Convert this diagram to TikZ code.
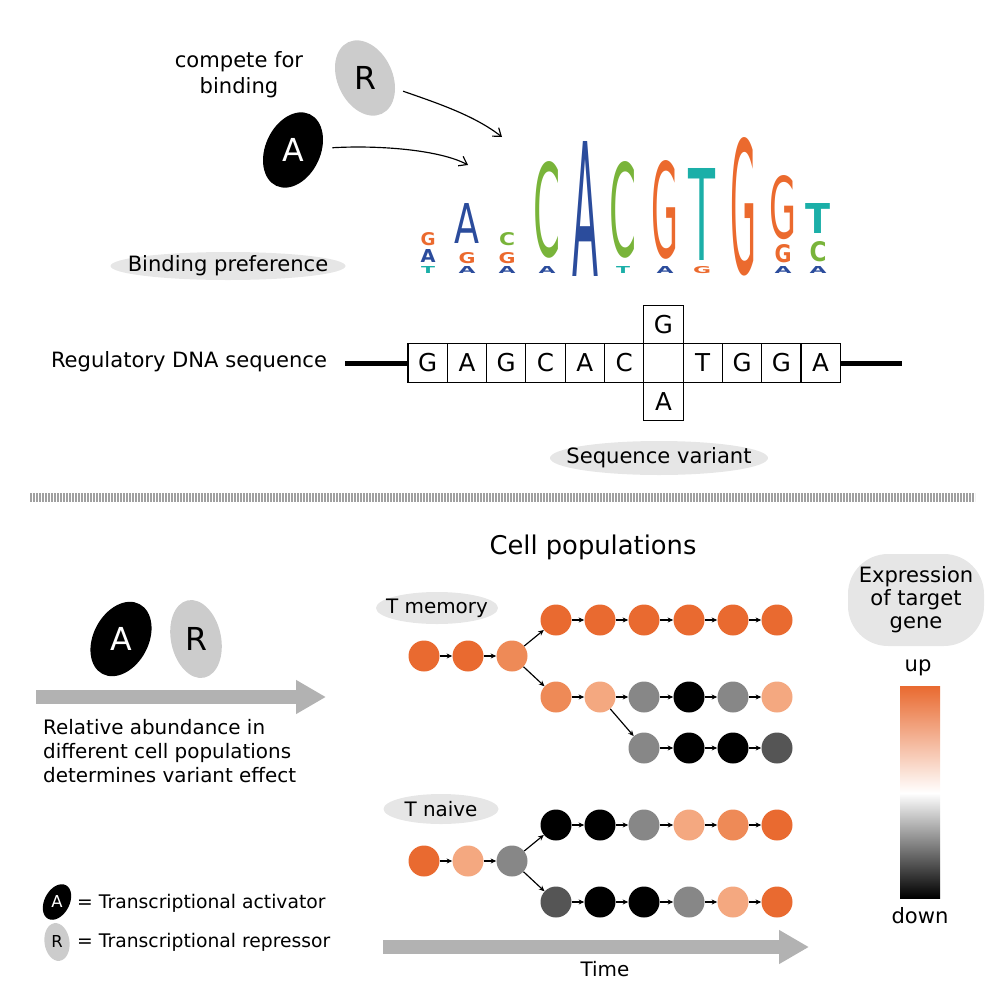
\documentclass[tikz,border=0pt]{standalone}
\usepackage{fontspec}
\setmainfont{DejaVu Sans}
\usepackage{graphicx}
\usetikzlibrary{arrows.meta,shapes.geometric}

\definecolor{logoG}{HTML}{EB6A2E}
\definecolor{logoA}{HTML}{2B4C9C}
\definecolor{logoC}{HTML}{79B43A}
\definecolor{logoT}{HTML}{1BAFA8}
\definecolor{cellhi}{HTML}{E96A30}
\definecolor{cellmid}{HTML}{EE8A57}
\definecolor{celllo}{HTML}{F4A880}
\definecolor{cellgray}{HTML}{878787}
\definecolor{celldark}{HTML}{555555}
\definecolor{bubblegray}{HTML}{E6E6E6}
\definecolor{tfgray}{HTML}{CCCCCC}
\definecolor{arrowgray}{HTML}{B2B2B2}
\definecolor{sepgray}{HTML}{A0A0A0}

\newlength{\pxu}
\setlength{\pxu}{0.3mm}
%% name, x, y of foot, width, height, letter, colour
\newcommand{\logoletter}[7]{\draw (#2,#3) node[anchor=south,inner sep=0pt] (#1) {\resizebox{#4\pxu}{#5\pxu}{\color{#7}#6}};}

\begin{document}
\begin{tikzpicture}[x=0.3mm, y=-0.3mm,
	lbl/.style={font=\fontsize{18}{22}\selectfont, inner sep=0pt},
	txt/.style={font=\fontsize{17}{20.4}\selectfont, inner sep=0pt},
	legend/.style={font=\fontsize{16}{19}\selectfont, inner sep=0pt},
	title/.style={font=\fontsize{22}{26}\selectfont, inner sep=0pt},
	bubble/.style={ellipse, fill=bubblegray, inner sep=0pt},
	tfshape/.style={ellipse, inner sep=0pt, minimum width=16.5mm, minimum height=23.7mm},
	tfsmall/.style={ellipse, inner sep=0pt, minimum width=7.5mm, minimum height=11.4mm},
	tfletter/.style={font=\fontsize{27}{27}\selectfont, inner sep=0pt},
	legletter/.style={font=\fontsize{14}{14}\selectfont, inner sep=0pt},
	dnabox/.style={draw, fill=white, line width=0.35mm, minimum width=11.8mm, minimum height=11.6mm, inner sep=0pt, font=\fontsize{21}{21}\selectfont},
	cell/.style={circle, minimum size=9.3mm, inner sep=0pt},
	cellarrow/.style={-{Stealth[length=1.7mm,width=1.5mm]}, line width=0.35mm},
	bigarrow/.style={draw=arrowgray, line width=4.2mm, -{Triangle[length=9mm,width=9.6mm]}},
	bindarrow/.style={-{Straight Barb[length=2.2mm,width=3.2mm]}, line width=0.35mm}
	]
	
		\useasboundingbox (0,0) rectangle (1000,1000);
		
		%%Factors competing
		\draw (239,75) node[lbl, align=center] (compete) {compete for\\binding};
		\node[tfshape, fill=tfgray, rotate=25] (tfR) at (365,78) {};
		\node[tfletter] (tfRl) at (tfR) {R};
		\node[tfshape, fill=black, rotate=-25] (tfA) at (293,150) {};
		\node[tfletter, text=white] (tfAl) at (tfA) {A};
		\coordinate (bindR) at (502,137);
		\coordinate (bindA) at (468,165);
		\draw[bindarrow, shorten <=2.5mm] (tfR) .. controls (440,104) and (475,116) .. (bindR);
		\draw[bindarrow, shorten <=3mm] (tfA) .. controls (380,145) and (440,150) .. (bindA);
		
		%%Logo
		\logoletter{lg1a}{428}{274}{14}{7}{\bfseries T}{logoT}
		\logoletter{lg1b}{428}{263}{15}{13}{\bfseries A}{logoA}
		\logoletter{lg1c}{428}{246}{15}{13}{\bfseries G}{logoG}
		\logoletter{lg2a}{467}{274}{17}{7}{\bfseries A}{logoA}
		\logoletter{lg2b}{467}{264}{17}{11}{\bfseries G}{logoG}
		\logoletter{lg2c}{467}{244}{25}{40}{A}{logoA}
		\logoletter{lg3a}{507}{274}{17}{7}{\bfseries A}{logoA}
		\logoletter{lg3b}{507}{264}{17}{11}{\bfseries G}{logoG}
		\logoletter{lg3c}{507}{246}{16}{13}{\bfseries C}{logoC}
		\logoletter{lg4a}{547}{274}{17}{7}{\bfseries A}{logoA}
		\logoletter{lg4b}{547}{259}{27}{95}{C}{logoC}
		\logoletter{lg5a}{585}{277}{26}{135}{A}{logoA}
		\logoletter{lg6a}{623}{274}{14}{7}{\bfseries T}{logoT}
		\logoletter{lg6b}{623}{259}{27}{95}{C}{logoC}
		\logoletter{lg7a}{665}{274}{17}{7}{\bfseries A}{logoA}
		\logoletter{lg7b}{665}{260}{27}{97}{G}{logoG}
		\logoletter{lg8a}{702}{274}{18}{7}{\bfseries G}{logoG}
		\logoletter{lg8b}{702}{261}{27}{92}{T}{logoT}
		\logoletter{lg9a}{743}{276}{26}{136}{G}{logoG}
		\logoletter{lg10a}{783}{274}{17}{7}{\bfseries A}{logoA}
		\logoletter{lg10b}{783}{263}{17}{18}{\bfseries G}{logoG}
		\logoletter{lg10c}{783}{240}{27}{63}{G}{logoG}
		\logoletter{lg11a}{818}{274}{17}{7}{\bfseries A}{logoA}
		\logoletter{lg11b}{818}{262}{17}{20}{\bfseries C}{logoC}
		\logoletter{lg11c}{818}{234}{25}{30}{\bfseries T}{logoT}
		
		\node[bubble, minimum width=70.5mm, minimum height=8.4mm] (bindbub) at (228,266) {};
		\node[lbl] (bindlbl) at (bindbub) {Binding preference};
		
		%%Sequence
		\draw (189,362) node[lbl] (reglbl) {Regulatory DNA sequence};
		\coordinate (dna0) at (345,363);
		\coordinate (dna1) at (902,363);
		\draw[line width=1.5mm] (dna0) -- (dna1);
		\node[dnabox] (s1) at (427.65,363) {G};
		\node[dnabox] (s2) at (466.95,363) {A};
		\node[dnabox] (s3) at (506.25,363) {G};
		\node[dnabox] (s4) at (545.55,363) {C};
		\node[dnabox] (s5) at (584.85,363) {A};
		\node[dnabox] (s6) at (624.15,363) {C};
		\node[dnabox] (s7) at (663.45,363) {};
		\node[dnabox] (s8) at (702.75,363) {T};
		\node[dnabox] (s9) at (742.05,363) {G};
		\node[dnabox] (s10) at (781.35,363) {G};
		\node[dnabox] (s11) at (820.65,363) {A};
		\node[dnabox] (varG) at (663.45,324.5) {G};
		\node[dnabox] (varA) at (663.45,401.5) {A};
		
		\node[bubble, minimum width=65.4mm, minimum height=10.2mm] (varbub) at (659,458) {};
		\node[lbl] (varlbl) at (varbub) {Sequence variant};
		
		%%Separator
		\coordinate (sep0) at (30,497);
		\coordinate (sep1) at (975,497);
		\draw[sepgray, line width=2.7mm, dash pattern=on 0.45mm off 0.45mm] (sep0) -- (sep1);
		
		%%Abundance
		\node[tfshape, fill=black, rotate=-28] (abA) at (121,639) {};
		\node[tfletter, text=white] (abAl) at (abA) {A};
		\node[tfshape, fill=tfgray, rotate=12, minimum width=15mm] (abR) at (196,639) {};
		\node[tfletter] (abRl) at (abR) {R};
		\coordinate (ab0) at (36,697);
		\coordinate (ab1) at (326,697);
		\draw[bigarrow] (ab0) -- (ab1);
		\node[txt, anchor=west, align=left] (abund) at (43,751) {Relative abundance in\\different cell populations\\determines variant effect};
		
		%%Legend
		\node[tfsmall, fill=black, rotate=-28] (legA) at (57,902) {};
		\node[legletter, text=white] (legAl) at (legA) {A};
		\node[legend, anchor=west] (legAtxt) at (77,903) {= Transcriptional activator};
		\node[tfsmall, fill=tfgray, rotate=8] (legR) at (57,942) {};
		\node[legletter] (legRl) at (legR) {R};
		\node[legend, anchor=west] (legRtxt) at (77,942) {= Transcriptional repressor};
		
		%%Cell populations
		\draw (593,547) node[title] (celltitle) {Cell populations};
		
		\node[bubble, minimum width=36.6mm, minimum height=9.6mm] (membub) at (437,608) {};
		\node[txt] (memlbl) at (membub) {T memory};
		\node[cell, fill=cellhi] (m0) at (424,656) {};
		\node[cell, fill=cellhi] (m1) at (468,656) {};
		\node[cell, fill=cellmid] (m2) at (512,656) {};
		\node[cell, fill=cellhi] (mt3) at (556,620) {};
		\node[cell, fill=cellhi] (mt4) at (600,620) {};
		\node[cell, fill=cellhi] (mt5) at (644,620) {};
		\node[cell, fill=cellhi] (mt6) at (689,620) {};
		\node[cell, fill=cellhi] (mt7) at (733,620) {};
		\node[cell, fill=cellhi] (mt8) at (777,620) {};
		\node[cell, fill=cellmid] (mm3) at (556,697) {};
		\node[cell, fill=celllo] (mm4) at (600,697) {};
		\node[cell, fill=cellgray] (mm5) at (644,697) {};
		\node[cell, fill=black] (mm6) at (689,697) {};
		\node[cell, fill=cellgray] (mm7) at (733,697) {};
		\node[cell, fill=celllo] (mm8) at (777,697) {};
		\node[cell, fill=cellgray] (mb5) at (644,748) {};
		\node[cell, fill=black] (mb6) at (689,748) {};
		\node[cell, fill=black] (mb7) at (733,748) {};
		\node[cell, fill=celldark] (mb8) at (777,748) {};
		
		\draw[cellarrow] (m0) -- (m1);
		\draw[cellarrow] (m1) -- (m2);
		\draw[cellarrow] (m2) -- (mt3);
		\draw[cellarrow] (m2) -- (mm3);
		\draw[cellarrow] (mt3) -- (mt4);
		\draw[cellarrow] (mt4) -- (mt5);
		\draw[cellarrow] (mt5) -- (mt6);
		\draw[cellarrow] (mt6) -- (mt7);
		\draw[cellarrow] (mt7) -- (mt8);
		\draw[cellarrow] (mm3) -- (mm4);
		\draw[cellarrow] (mm4) -- (mm5);
		\draw[cellarrow] (mm5) -- (mm6);
		\draw[cellarrow] (mm6) -- (mm7);
		\draw[cellarrow] (mm7) -- (mm8);
		\draw[cellarrow] (mm4) -- (mb5);
		\draw[cellarrow] (mb5) -- (mb6);
		\draw[cellarrow] (mb6) -- (mb7);
		\draw[cellarrow] (mb7) -- (mb8);
		
		\node[bubble, minimum width=34.5mm, minimum height=9mm] (naibub) at (441,809) {};
		\node[txt] (nailbl) at (naibub) {T naive};
		\node[cell, fill=cellhi] (n0) at (424,861) {};
		\node[cell, fill=celllo] (n1) at (468,861) {};
		\node[cell, fill=cellgray] (n2) at (512,861) {};
		\node[cell, fill=black] (nt3) at (556,825) {};
		\node[cell, fill=black] (nt4) at (600,825) {};
		\node[cell, fill=cellgray] (nt5) at (644,825) {};
		\node[cell, fill=celllo] (nt6) at (689,825) {};
		\node[cell, fill=cellmid] (nt7) at (733,825) {};
		\node[cell, fill=cellhi] (nt8) at (777,825) {};
		\node[cell, fill=celldark] (nb3) at (556,902) {};
		\node[cell, fill=black] (nb4) at (600,902) {};
		\node[cell, fill=black] (nb5) at (644,902) {};
		\node[cell, fill=cellgray] (nb6) at (689,902) {};
		\node[cell, fill=celllo] (nb7) at (733,902) {};
		\node[cell, fill=cellhi] (nb8) at (777,902) {};
		
		\draw[cellarrow] (n0) -- (n1);
		\draw[cellarrow] (n1) -- (n2);
		\draw[cellarrow] (n2) -- (nt3);
		\draw[cellarrow] (n2) -- (nb3);
		\draw[cellarrow] (nt3) -- (nt4);
		\draw[cellarrow] (nt4) -- (nt5);
		\draw[cellarrow] (nt5) -- (nt6);
		\draw[cellarrow] (nt6) -- (nt7);
		\draw[cellarrow] (nt7) -- (nt8);
		\draw[cellarrow] (nb3) -- (nb4);
		\draw[cellarrow] (nb4) -- (nb5);
		\draw[cellarrow] (nb5) -- (nb6);
		\draw[cellarrow] (nb6) -- (nb7);
		\draw[cellarrow] (nb7) -- (nb8);
		
		%%Time
		\coordinate (time0) at (383,947);
		\coordinate (time1) at (809,947);
		\draw[bigarrow] (time0) -- (time1);
		\draw (605,969) node[txt] (timelbl) {Time};
		
		%%Expression scale
		\node[rectangle, rounded corners=12mm, fill=bubblegray, minimum width=40.8mm, minimum height=27.6mm] (exprbub) at (916,600) {};
		\node[lbl, align=center, font=\fontsize{18}{19.6}\selectfont] (exprlbl) at (exprbub) {Expression\\of target\\gene};
		\draw (918,668) node[lbl] (uplbl) {up};
		\draw (920,916) node[lbl] (downlbl) {down};
		\shade[top color=cellhi, middle color=cellhi!85, bottom color=white] (900,686) rectangle (940,793);
		\shade[top color=white, middle color=black!50, bottom color=black] (900,793) rectangle (940,898);
		
\end{tikzpicture}
\end{document}
